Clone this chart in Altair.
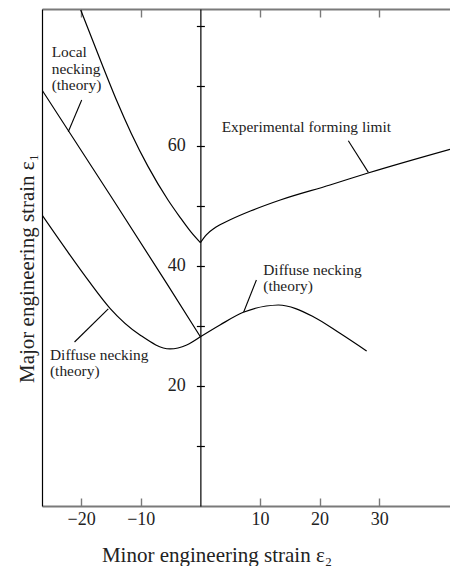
import altair as alt
import pandas as pd

FONT = "Liberation Serif"
INK = "#222222"

# ---- data (strain in %) ----
# Experimental forming limit, left and right branches
fl_left_e2 = [-20.08, -16.34, -14.1, -11.59, -8.79, -5.43, -3.47, -1.52, 0.0]
fl_left_e1 = [82.67, 73.2, 67.7, 62.1, 56.6, 51.0, 48.2, 45.6, 43.9]
fl_right_e2 = [0.0, 1.0, 2.5, 5.0, 8.5, 13.4, 21.75, 28.13, 41.88]
fl_right_e1 = [43.9, 45.2, 46.4, 47.7, 49.2, 51.0, 53.5, 55.5, 59.45]
# Local necking (theory)
local_e2 = [-26.57, -14.61, -5.65, 0.0]
local_e1 = [69.33, 51.0, 37.1, 28.2]
# Diffuse necking (theory), left and right parts
dl_e2 = [-26.57, -22.43, -18.8, -15.16, -10.13, -5.10, -2.29, 0.0]
dl_e1 = [48.5, 42.6, 37.6, 32.95, 28.5, 26.17, 26.83, 28.2]
dr_e2 = [0.0, 3.29, 7.2, 13.07, 18.95, 23.42, 27.9]
dr_e1 = [28.2, 30.17, 32.28, 33.5, 31.55, 28.78, 25.83]

# annotations
ann_text = ["Local\nnecking\n(theory)", "Experimental forming limit",
            "Diffuse necking\n(theory)", "Diffuse necking\n(theory)"]
ann_e2 = [-24.94, 3.58, 10.55, -25.23]
ann_e1 = [74.75, 62.25, 38.5, 24.33]
lead_e2 = [-19.91, 24.82, 9.4, -21.11]
lead_e1 = [67.67, 60.88, 37.67, 27.33]
lead_e2_end = [-22.16, 28.18, 7.25, -15.45]
lead_e1_end = [62.38, 55.6, 32.28, 32.87]

x_ticks = [-20, -10, 10, 20, 30]
y_ticks = [10, 20, 30, 40, 50, 60, 70, 80]
y_labelled = [20, 40, 60]

X_DOMAIN = [-26.57, 41.88]
Y_DOMAIN = [0, 82.83]
W, H = 408, 497
x0 = (0 - X_DOMAIN[0]) / (X_DOMAIN[1] - X_DOMAIN[0]) * W

rows = []
for name, xs_, ys_ in [("fl_left", fl_left_e2, fl_left_e1),
                       ("fl_right", fl_right_e2, fl_right_e1),
                       ("local", local_e2, local_e1),
                       ("diff_left", dl_e2, dl_e1),
                       ("diff_right", dr_e2, dr_e1)]:
    for a, b in zip(xs_, ys_):
        rows.append({"series": name, "e2": a, "e1": b})
curves = pd.DataFrame(rows)
ann = pd.DataFrame({"label": ann_text, "ax": ann_e2, "ay": ann_e1})
leads = pd.DataFrame({"lx": lead_e2, "ly": lead_e1, "lx2": lead_e2_end, "ly2": lead_e1_end})

xs = alt.Scale(domain=X_DOMAIN, nice=False, zero=False)
ys = alt.Scale(domain=Y_DOMAIN, nice=False, zero=False)

minus_expr = "datum.value < 0 ? '\u2212' + format(-datum.value, 'd') : format(datum.value, 'd')"
ylab_expr = "indexof([" + ",".join(str(v) for v in y_labelled) + "], datum.value) >= 0 ? datum.label : ''"

# Layer A: curves, bottom labelled x axis + left frame y axis
lines = alt.Chart(curves).mark_line(
    color="black", strokeWidth=1.2, interpolate="monotone", clip=True
).encode(
    x=alt.X("e2:Q", scale=xs, axis=alt.Axis(
        orient="bottom", values=x_ticks, ticks=False, grid=False,
        domain=True, domainColor="#7a7a7a", domainWidth=2,
        labelFont=FONT, labelFontSize=18, labelColor=INK, labelPadding=4,
        labelExpr=minus_expr, labelFlush=False, labelOverlap=False,
        title="Minor engineering strain ε₂", titleFont=FONT, titleFontSize=21,
        titleFontWeight="normal", titleColor=INK, titleX=174.5, titleY=55.5,
        titleAlign="center", titleBaseline="alphabetic")),
    y=alt.Y("e1:Q", scale=ys, axis=alt.Axis(
        orient="left", ticks=False, labels=False, grid=False,
        domain=True, domainColor="black", domainWidth=1.2,
        title="Major engineering strain ε₁", titleFont=FONT, titleFontSize=21,
        titleFontWeight="normal", titleColor=INK, titleAngle=270,
        titleX=-8.5, titleY=259, titleAlign="center", titleBaseline="alphabetic")),
    detail="series:N",
)

# Layer B: annotation text, inward bottom ticks + central y axis (left half)
texts = alt.Chart(ann).mark_text(
    align="left", baseline="alphabetic", font=FONT, fontSize=15.4,
    color=INK, lineBreak="\n", lineHeight=16.3
).encode(
    x=alt.X("ax:Q", scale=xs, axis=alt.Axis(
        orient="top", offset=-H, values=x_ticks, ticks=True, tickSize=8,
        tickColor="#7a7a7a", tickWidth=1.4, labels=False, domain=False,
        grid=False, title="")),
    y=alt.Y("ay:Q", scale=ys, axis=alt.Axis(
        orient="left", offset=-x0, values=y_ticks, ticks=True, tickSize=4,
        tickColor="black", tickWidth=1.2, domain=True, domainColor="black",
        domainWidth=1.2, labels=True, labelExpr=ylab_expr, labelFont=FONT,
        labelFontSize=18, labelColor=INK, labelPadding=11, grid=False,
        title="")),
    text="label:N",
)

# Layer C: leader lines, top frame + central y axis (right half)
leaders = alt.Chart(leads).mark_rule(color="black", strokeWidth=1.1).encode(
    x=alt.X("lx:Q", scale=xs, axis=alt.Axis(
        orient="bottom", offset=-H, values=x_ticks, ticks=True, tickSize=8,
        tickColor="#7a7a7a", tickWidth=1.4, labels=False, domain=True,
        domainColor="#7a7a7a", domainWidth=2, grid=False, title="")),
    y=alt.Y("ly:Q", scale=ys, axis=alt.Axis(
        orient="right", offset=-(W - x0), values=y_ticks, ticks=True,
        tickSize=4, tickColor="black", tickWidth=1.2, labels=False,
        domain=False, grid=False, title="")),
    x2="lx2:Q",
    y2="ly2:Q",
)

chart = alt.layer(lines, texts, leaders).resolve_axis(
    x="independent", y="independent"
).properties(
    width=W, height=H,
    padding={"left": 42, "top": 9, "right": 0, "bottom": 60},
    autosize="none", background="white",
).configure_view(strokeWidth=0)

chart.save("out.html", embed_options={"renderer": "svg", "actions": False})
